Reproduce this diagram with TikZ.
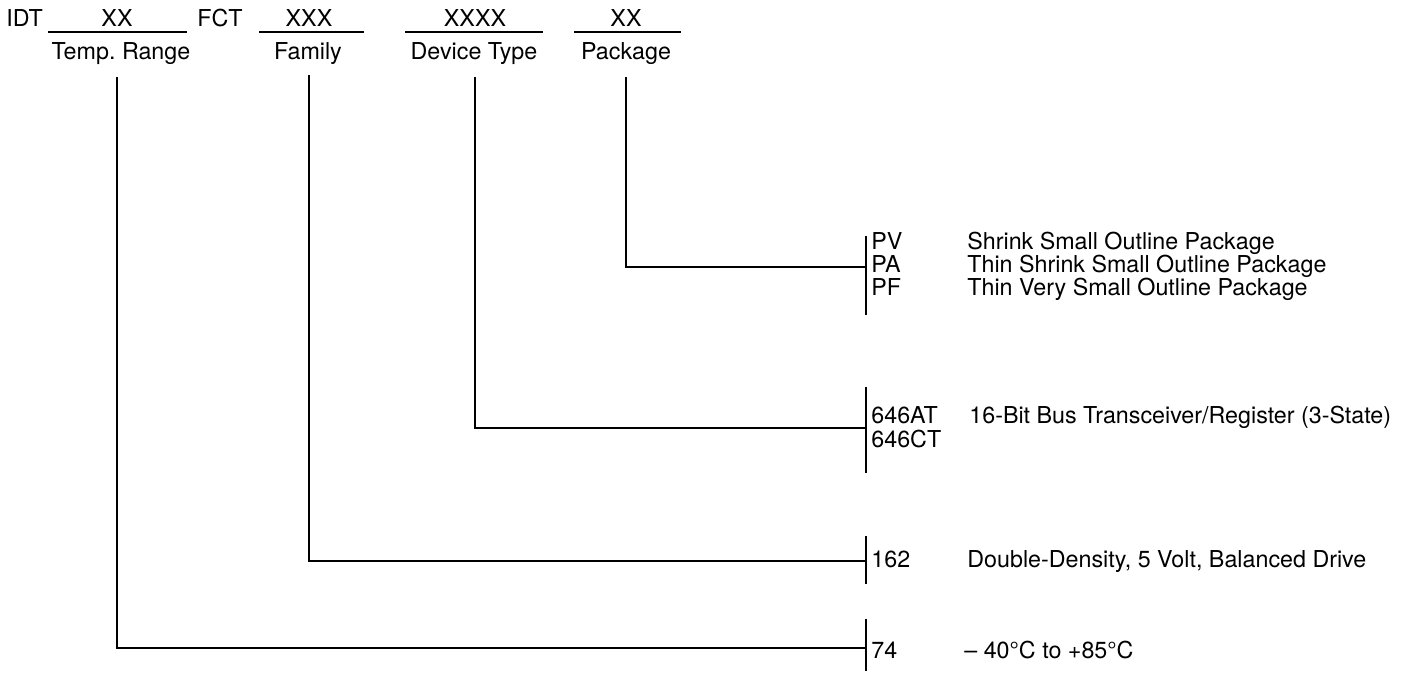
\documentclass[tikz,border=0pt]{standalone}
\usepackage{fontspec}
\setmainfont{TeX Gyre Heros}

\begin{document}
\begin{tikzpicture}[
    x=0.02cm, y=-0.02cm,
    font=\fontsize{13.25}{15}\selectfont,
    % Styles
    field/.style={anchor=base, inner sep=0pt},
    code/.style={anchor=base west, inner sep=0pt},
    rule/.style={line width=1.1pt},
    bar/.style={line width=0.8pt},
    lead/.style={line width=0.8pt}
]
    \useasboundingbox (0,0) rectangle (1409,673);

    % --- ORDERING CODE ---
    \node[code] (idt) at (6,26) {IDT};
    \node[field] (xtemp) at (117,26) {XX};
    \node[code] (fct) at (197,26) {FCT};
    \node[field] (xfam) at (309,26) {XXX};
    \node[field] (xdev) at (475,26) {XXXX};
    \node[field] (xpkg) at (626,26) {XX};

    \draw[rule] (48,32) -- (187,32);
    \draw[rule] (259,32) -- (364,32);
    \draw[rule] (405,32) -- (543,32);
    \draw[rule] (574,32) -- (681,32);

    % Field names
    \node[field] (temp) at (121,59) {Temp.\ Range};
    \node[field] (fam) at (308,59) {Family};
    \node[field] (dev) at (474,59) {Device Type};
    \node[field] (pkg) at (626,59) {Package};

    % --- PACKAGE ---
    \draw[bar] (866,236) -- (866,315);
    \node[code] (pv) at (871,249) {PV};
    \node[code] (pa) at (871,272) {PA};
    \node[code] (pf) at (871,295) {PF};
    \node[code] (pvtxt) at (967,249) {Shrink Small Outline Package};
    \node[code] (patxt) at (967,272) {Thin Shrink Small Outline Package};
    \node[code] (pftxt) at (967,295) {Thin Very Small Outline Package};

    % --- DEVICE TYPE ---
    \draw[bar] (866,387) -- (866,473);
    \node[code] (at) at (871,423) {646AT};
    \node[code] (ct) at (871,447) {646CT};
    \node[code] (devtxt) at (969,423) {16-Bit Bus Transceiver/Register (3-State)};

    % --- FAMILY ---
    \draw[bar] (866,536) -- (866,584);
    \node[code] (fam162) at (871,567) {162};
    \node[code] (famtxt) at (967,567) {Double-Density, 5 Volt, Balanced Drive};

    % --- TEMPERATURE ---
    \draw[bar] (866,619) -- (866,671);
    \node[code] (t74) at (871,658) {74};
    \node[code] (temptxt) at (964,658) {-- 40\textdegree C to +85\textdegree C};

    % --- LEADS ---
    \coordinate (pkgtop) at (626,77);
    \coordinate (devtop) at (475,77);
    \coordinate (famtop) at (309,75);
    \coordinate (temptop) at (117,77);
    \coordinate (pkgtap) at (866,267);
    \coordinate (devtap) at (866,428);
    \coordinate (famtap) at (866,561);
    \coordinate (temptap) at (866,648);

    \draw[lead] (pkgtop) |- (pkgtap);
    \draw[lead] (devtop) |- (devtap);
    \draw[lead] (famtop) |- (famtap);
    \draw[lead] (temptop) |- (temptap);

\end{tikzpicture}
\end{document}
